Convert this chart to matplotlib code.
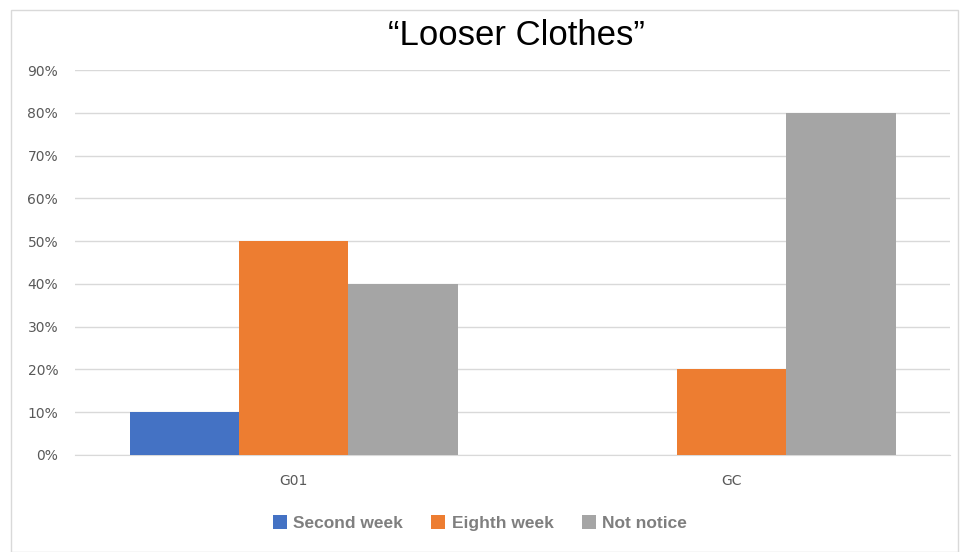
import matplotlib
matplotlib.use("Agg")
import matplotlib.pyplot as plt
import numpy as np
from matplotlib.patches import Rectangle

# data
categories = ["G01", "GC"]
series_names = ["Second week", "Eighth week", "Not notice"]
second_week = [0.10, 0.0]
eighth_week = [0.50, 0.20]
not_notice = [0.40, 0.80]
colors = ["#4472C4", "#ED7D31", "#A5A5A5"]

fig = plt.figure(figsize=(9.6, 5.52), dpi=100)
ax = fig.add_axes([0.078, 0.176, 0.912, 0.697])

# light frame round the chart
fig.patches.append(Rectangle((0.011, 0.0), 0.987, 0.982, transform=fig.transFigure,
                             fill=False, edgecolor="#D9D9D9", linewidth=1.0))

x = np.arange(len(categories))
width = 0.25
for i, (vals, name) in enumerate(zip([second_week, eighth_week, not_notice], series_names)):
    ax.bar(x + (i - 1) * width, vals, width, color=colors[i], label=name, zorder=3)

ax.set_xlim(-0.5, 1.5)
ax.set_ylim(0, 0.9)
ax.set_yticks(np.arange(0, 0.91, 0.1))
ax.set_yticklabels([f"{int(round(v * 100))}%" for v in np.arange(0, 0.91, 0.1)])
ax.set_xticks(x)
ax.set_xticklabels(categories)

ax.grid(axis="y", color="#D9D9D9", linewidth=1.0, zorder=0)
for s in ["top", "right", "left"]:
    ax.spines[s].set_visible(False)
ax.spines["bottom"].set_color("#D9D9D9")
ax.tick_params(axis="both", length=0, colors="#595959", labelsize=10)
ax.tick_params(axis="x", pad=14)
ax.tick_params(axis="y", pad=12)

fig.text(0.538, 0.935, "\u201cLooser Clothes\u201d", ha="center", va="center",
         fontsize=25, family="Liberation Sans", color="#000000")

leg = fig.legend(loc="center", bbox_to_anchor=(0.5, 0.052), ncol=3, frameon=False,
                 handlelength=0.8, handleheight=0.8, handletextpad=0.4, columnspacing=1.6,
                 prop={"size": 12.5, "weight": "bold", "family": "Liberation Sans"})
for t in leg.get_texts():
    t.set_color("#7F7F7F")

fig.savefig("out.png", dpi=100)
